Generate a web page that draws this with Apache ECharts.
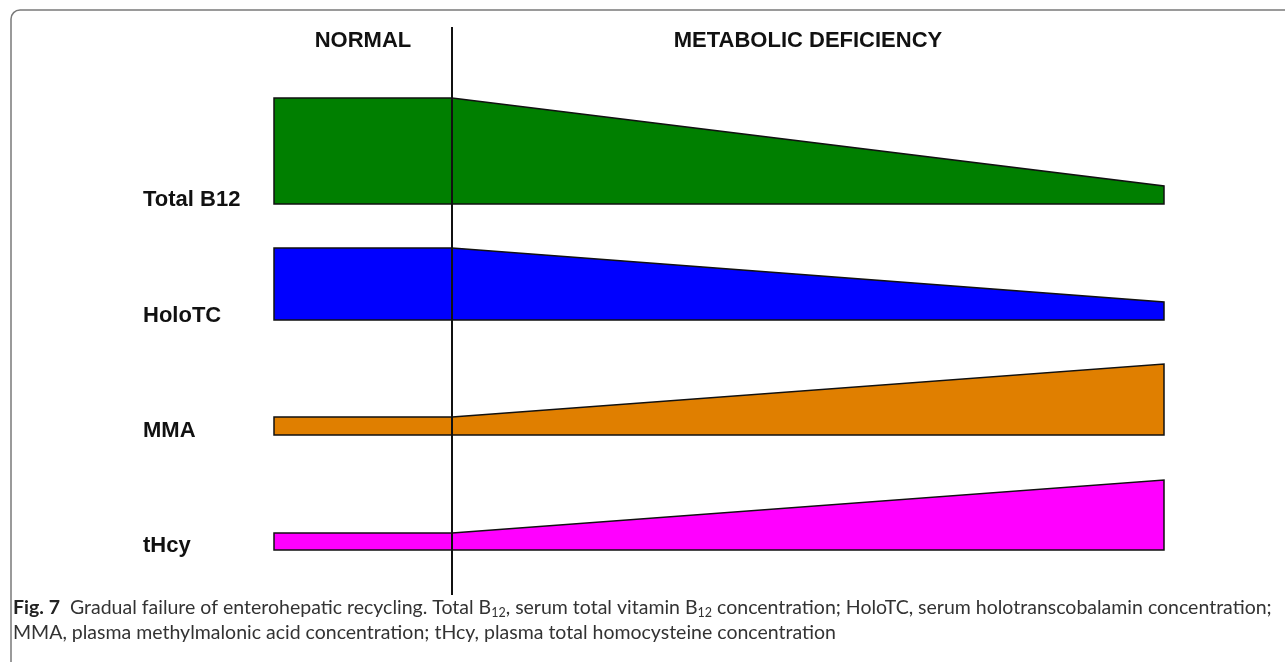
<!DOCTYPE html>
<html>
<head>
<meta charset="utf-8">
<script src="https://cdn.jsdelivr.net/npm/echarts@6/dist/echarts.min.js"></script>
<style>
  html, body { margin: 0; padding: 0; background: #fff; }
  #chart { width: 1285px; height: 662px; }
</style>
</head>
<body>
<div id="chart"></div>
<script>
// phases along the time axis (0..100), boundary at 20
const phases = ['NORMAL', 'METABOLIC DEFICIENCY'];
const phaseX = [0, 20, 100];

// markers, top to bottom
const markers = ['Total B12', 'HoloTC', 'MMA', 'tHcy'];
const rowBase = [346, 230, 115, 0];        // baseline of each band
const levelNormal = [106, 72, 18, 17];     // level during normal phase
const levelEnd = [18, 18, 71, 70];         // level at end of deficiency
const bandColors = ['#007f00', '#0000ff', '#e07f00', '#ff00ff'];

let bandData = [];
for (let i = 0; i < markers.length; i++) {
    bandData.push([i, rowBase[i], levelNormal[i], levelEnd[i]]);
}
let phaseData = [];
for (let i = 0; i < phases.length; i++) {
    phaseData.push([phaseX[i], phaseX[i + 1], i]);
}

const labelFont = {
    fill: '#111',
    fontFamily: 'Liberation Sans',
    fontWeight: 'bold',
    fontSize: 22
};

function renderBand(params, api) {
    let i = api.value(0);
    let base = api.value(1);
    let h0 = api.value(2);
    let h1 = api.value(3);
    let pts = [
        api.coord([phaseX[0], base]),
        api.coord([phaseX[0], base + h0]),
        api.coord([phaseX[1], base + h0]),
        api.coord([phaseX[2], base + h1]),
        api.coord([phaseX[2], base])
    ];
    let left = api.coord([phaseX[0], base]);
    return {
        type: 'group',
        children: [{
            type: 'polygon',
            shape: { points: pts },
            style: { fill: bandColors[i], stroke: '#111', lineWidth: 1.5 }
        }, {
            type: 'text',
            x: left[0] - 131,
            y: left[1] - 4,
            style: Object.assign({
                text: markers[i],
                verticalAlign: 'middle',
                align: 'left'
            }, labelFont)
        }]
    };
}

function renderPhase(params, api) {
    let p = api.coord([(api.value(0) + api.value(1)) / 2, 523]);
    return {
        type: 'text',
        x: p[0],
        y: p[1] + 14,
        style: Object.assign({
            text: phases[api.value(2)],
            align: 'center',
            verticalAlign: 'middle'
        }, labelFont)
    };
}

let chart = echarts.init(document.getElementById('chart'));
let option = {
    backgroundColor: '#fff',
    animation: false,
    grid: { left: 274, right: 121, top: 27, bottom: 67 },
    xAxis: { type: 'value', min: 0, max: 100, show: false },
    yAxis: { type: 'value', min: -45, max: 523, show: false },
    graphic: [{
        type: 'rect',
        shape: { x: 11, y: 10, width: 1300, height: 700, r: 9 },
        style: { fill: 'none', stroke: '#7a7a7a', lineWidth: 1.5 },
        silent: true
    }, {
        type: 'text',
        left: 13,
        top: 595,
        style: {
            text: '{b|Fig. 7}  Gradual failure of enterohepatic recycling. Total B{s|12}, serum total vitamin B{s|12} concentration; HoloTC, serum holotranscobalamin concentration;\nMMA, plasma methylmalonic acid concentration; tHcy, plasma total homocysteine concentration',
            fill: '#333',
            fontFamily: 'Lato',
            fontSize: 19.5,
            lineHeight: 25,
            rich: {
                b: { fontWeight: 'bold', fontSize: 19.5, fontFamily: 'Lato', fill: '#222', lineHeight: 25 },
                s: { fontSize: 12.5, fontFamily: 'Lato', fill: '#333', padding: [10, 0, 0, 0], lineHeight: 25 }
            }
        }
    }],
    series: [{
        type: 'custom',
        renderItem: renderBand,
        data: bandData,
        markLine: {
            silent: true,
            symbol: 'none',
            label: { show: false },
            lineStyle: { color: '#111', width: 2, type: 'solid' },
            data: [{ xAxis: phaseX[1] }]
        }
    }, {
        type: 'custom',
        renderItem: renderPhase,
        data: phaseData
    }]
};
chart.setOption(option);
</script>
</body>
</html>
